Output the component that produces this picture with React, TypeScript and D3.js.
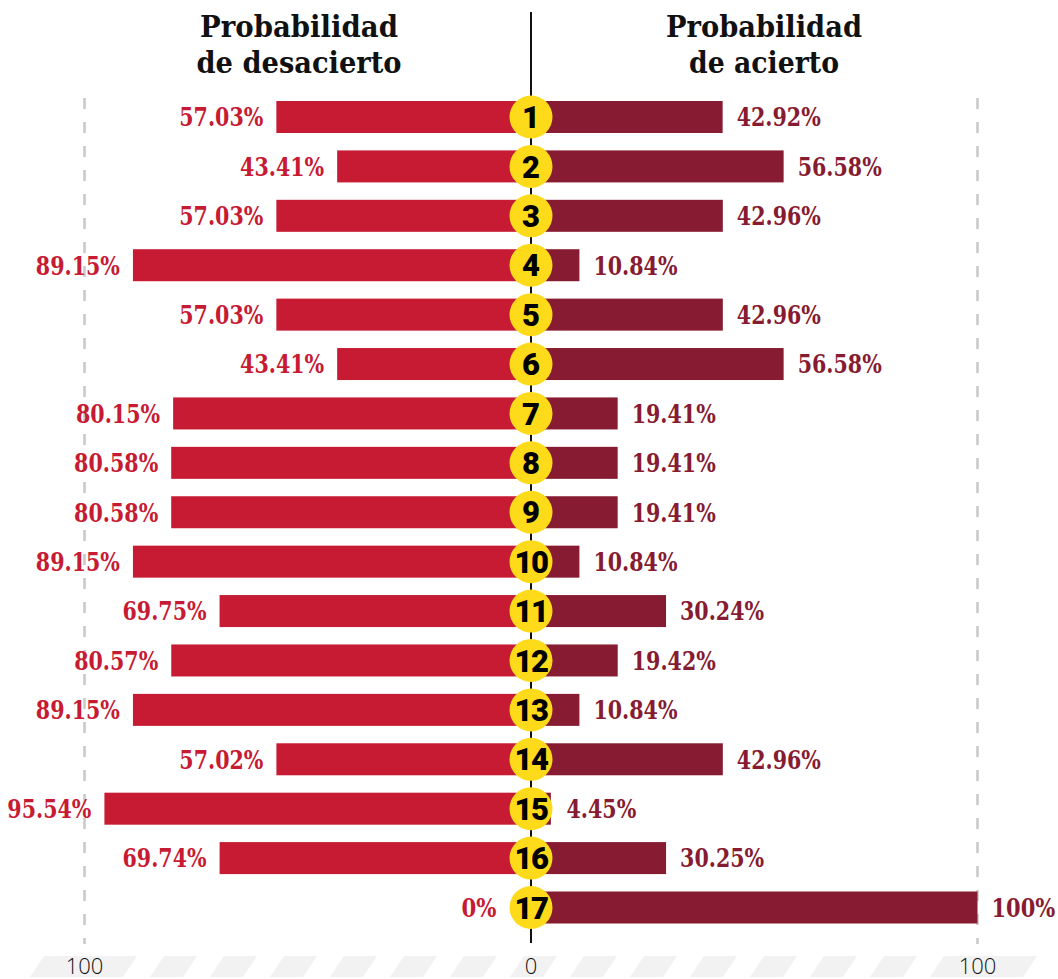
import { useEffect, useRef } from 'react';
import * as d3 from 'd3';

// ── Data ───────────────────────────────────────────────
const ranks = ['1', '2', '3', '4', '5', '6', '7', '8', '9', '10', '11', '12', '13', '14', '15', '16', '17'];
const missPct = [57.03, 43.41, 57.03, 89.15, 57.03, 43.41, 80.15, 80.58, 80.58, 89.15, 69.75, 80.57, 89.15, 57.02, 95.54, 69.74, 0];
const hitPct = [42.92, 56.58, 42.96, 10.84, 42.96, 56.58, 19.41, 19.41, 19.41, 10.84, 30.24, 19.42, 10.84, 42.96, 4.45, 30.25, 100];
const axisTicks = [
  { side: -1, value: 100, label: '100' },
  { side: 0, value: 0, label: '0' },
  { side: 1, value: 100, label: '100' },
];

const W = 1058;
const H = 979;
const CX = 531;
const BAR_H = 32;
const R = 21.5;

const MISS_COLOR = '#c71a33';
const HIT_COLOR = '#861b31';
const BADGE = '#fddb1a';

const SLAB = "'DejaVu Serif', serif";

function fmt(v: number) {
  return (v === 0 || v === 100 ? String(v) : v.toFixed(2)) + '%';
}

// approx. advance of the narrow slab face used in the original
function labelLen(s: string) {
  let w = 0;
  for (const c of s) w += c === '.' ? 6 : c === '%' ? 20.5 : 14.4;
  return w;
}

export default function App() {
  const svgRef = useRef<SVGSVGElement>(null);

  useEffect(() => {
    document.body.style.margin = '0';
    if (!svgRef.current) return;
    const svg = d3.select(svgRef.current);
    svg.selectAll('*').remove();

    const x = d3.scaleLinear().domain([0, 100]).range([0, 446.5]);
    const y = d3.scalePoint<string>().domain(ranks).range([117, 907.5]);

    // ── Bottom striped band ────────────────────────────
    const band = svg.append('g').attr('fill', '#f2f2f2');
    const y0 = 956, y1 = 977, slant = 14, sw = 33;
    for (let i = 0; i < 17; i++) {
      const bx = 30 + i * 60;
      let w = sw;
      if (i === 0 || i === 15) w = sw + 60;
      if (i === 1 || i === 16) continue;
      band.append('path').attr('d', `M${bx},${y1} L${bx + w},${y1} L${bx + w + slant},${y0} L${bx + slant},${y0} Z`);
    }

    // ── Grid lines ─────────────────────────────────────
    [-1, 1].forEach(s => {
      svg.append('line')
        .attr('x1', CX + s * x(100)).attr('x2', CX + s * x(100))
        .attr('y1', 98).attr('y2', 944)
        .attr('stroke', '#c8c8c8').attr('stroke-width', 2.5)
        .attr('stroke-dasharray', '11,13');
    });

    // ── Axis labels ────────────────────────────────────
    axisTicks.forEach(t => {
      svg.append('text')
        .attr('x', CX + t.side * x(t.value)).attr('y', 974)
        .attr('text-anchor', 'middle')
        .attr('font-family', "'Open Sans', sans-serif").attr('font-weight', 300)
        .attr('font-size', 22).attr('fill', '#111')
        .text(t.label);
    });

    // ── Center line ────────────────────────────────────
    svg.append('line')
      .attr('x1', CX).attr('x2', CX).attr('y1', 12).attr('y2', 943)
      .attr('stroke', '#111').attr('stroke-width', 2);

    // ── Headers ────────────────────────────────────────
    const headers = [
      { cx: 299, lines: ['Probabilidad', 'de desacierto'], lens: [198, 205] },
      { cx: 764, lines: ['Probabilidad', 'de acierto'], lens: [196, 150] },
    ];
    headers.forEach(h => {
      h.lines.forEach((ln, i) => {
        svg.append('text')
          .attr('x', h.cx).attr('y', 37 + i * 36)
          .attr('text-anchor', 'middle')
          .attr('font-family', SLAB).attr('font-weight', 700)
          .attr('font-size', 30).attr('fill', '#111')
          .attr('textLength', h.lens[i]).attr('lengthAdjust', 'spacingAndGlyphs')
          .text(ln);
      });
    });

    // ── Rows ───────────────────────────────────────────
    ranks.forEach((r, i) => {
      const cy = y(r)!;
      const lw = x(missPct[i]);
      const rw = x(hitPct[i]);

      svg.append('rect')
        .attr('x', CX - lw).attr('y', cy - BAR_H / 2)
        .attr('width', lw).attr('height', BAR_H)
        .attr('fill', MISS_COLOR);
      svg.append('rect')
        .attr('x', CX).attr('y', cy - BAR_H / 2)
        .attr('width', rw).attr('height', BAR_H)
        .attr('fill', HIT_COLOR);

      const lt = fmt(missPct[i]);
      const rt = fmt(hitPct[i]);
      svg.append('text')
        .attr('x', CX - Math.max(lw, R) - 13).attr('y', cy)
        .attr('dy', '0.36em').attr('text-anchor', 'end')
        .attr('font-family', SLAB).attr('font-weight', 700)
        .attr('font-size', 26).attr('fill', MISS_COLOR)
        .attr('textLength', labelLen(lt)).attr('lengthAdjust', 'spacingAndGlyphs')
        .text(lt);
      svg.append('text')
        .attr('x', CX + Math.max(rw, R) + 14).attr('y', cy)
        .attr('dy', '0.36em').attr('text-anchor', 'start')
        .attr('font-family', SLAB).attr('font-weight', 700)
        .attr('font-size', 26).attr('fill', HIT_COLOR)
        .attr('textLength', labelLen(rt)).attr('lengthAdjust', 'spacingAndGlyphs')
        .text(rt);

      svg.append('circle')
        .attr('cx', CX).attr('cy', cy).attr('r', R)
        .attr('fill', BADGE);
      svg.append('text')
        .attr('x', CX).attr('y', cy)
        .attr('dy', '0.36em').attr('text-anchor', 'middle')
        .attr('font-family', 'Roboto, sans-serif').attr('font-weight', 900)
        .attr('font-size', 31).attr('fill', '#000')
        .attr('letter-spacing', r.length > 1 ? -1.5 : 0)
        .text(r);
    });
  }, []);

  return <svg ref={svgRef} width={W} height={H} style={{ display: 'block', background: '#fff' }} />;
}
